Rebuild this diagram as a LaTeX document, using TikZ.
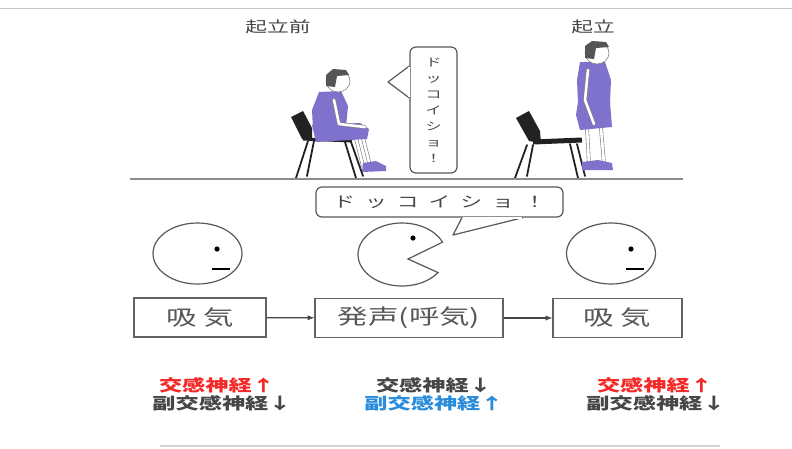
\documentclass[tikz,border=0pt]{standalone}
\usepackage{fontspec}
\usetikzlibrary{positioning}
\newfontfamily\jpfont[FakeStretch=1.45]{Noto Sans CJK JP}
\definecolor{shirt}{RGB}{126,114,204}
\definecolor{hair}{RGB}{85,85,85}
\definecolor{chair}{RGB}{34,34,34}
\definecolor{inkgray}{RGB}{70,70,70}
\definecolor{upred}{RGB}{245,40,40}
\definecolor{upblue}{RGB}{40,140,220}

\begin{document}
\begin{tikzpicture}[x=1pt, y=-1pt,
	phase/.style={draw=inkgray!85, line width=1.3pt, inner sep=0pt, minimum height=39pt, text=inkgray!90, font=\jpfont\fontsize{21}{21}\selectfont},
	bubble/.style={draw=inkgray!90, line width=1.2pt, fill=white, rounded corners=6pt, inner sep=0pt, text=inkgray},
	face/.style={draw=inkgray!90, line width=1.2pt, fill=white},
	nerve/.style={font=\jpfont\bfseries\fontsize{16}{16}\selectfont, inner sep=0pt},
	limb/.style={draw=gray, double=white, double distance=2.6pt, line width=0.6pt, line cap=round, line join=round},
	chairleg/.style={chair, line width=1.8pt, line cap=round}]
	\useasboundingbox (0,0) rectangle (792,448);
	\fill[white] (0,0) rectangle (792,448);

	\draw[gray!45, line width=0.8pt] (0,8) -- (792,8);
	\node[text=inkgray, font=\jpfont\fontsize{15}{15}\selectfont] (before) at (278,27) {起立前};
	\node[text=inkgray, font=\jpfont\fontsize{15}{15}\selectfont] (after) at (593,27) {起立};

	\fill[chair] (291,117) -- (303,111) -- (312,128) -- (312,140) -- (302,139) -- cycle;
	\draw[chair, line width=3pt] (303,139) -- (352,141);
	\draw[chairleg] (308,141) -- (296,178);
	\draw[chairleg] (314,141) -- (307,176);
	\draw[chairleg] (345,142) -- (356,178);
	\draw[chairleg] (351,142) -- (363,176);
	\draw[limb] (362,134) -- (370,166);
	\draw[limb] (355,134) -- (363,166);
	\fill[shirt] (363,163) -- (376,161) -- (386,166) -- (386,171) -- (362,172) -- cycle;
	\fill[shirt] (312,125) -- (360,123) -- (369,129) -- (367,139) -- (316,142) -- cycle;
	\fill[shirt] (319,92) -- (341,91) -- (348,106) -- (346,127) -- (313,130) -- (312,110) -- cycle;
	\draw[limb] (334,100) -- (339,124) -- (365,127);
	\filldraw[fill=white, draw=gray, line width=0.6pt] (338,81) ellipse [x radius=12, y radius=11];
	\fill[hair] (326,86) -- (326,75) -- (333,69) -- (346,70) -- (349,75) -- (337,76) -- (335,87) -- cycle;

	\fill[chair] (516,118) -- (529,111) -- (540,131) -- (541,143) -- (529,141) -- cycle;
	\draw[chair, line width=5pt] (533,142) -- (582,140);
	\draw[chairleg] (527,145) -- (515,178);
	\draw[chairleg] (533,145) -- (527,176);
	\draw[chairleg] (570,144) -- (578,178);
	\draw[chairleg] (577,144) -- (585,176);
	\draw[limb] (587,128) -- (589,164);
	\draw[limb] (601,128) -- (604,164);
	\fill[shirt] (582,162) -- (598,160) -- (612,163) -- (613,170) -- (582,170) -- cycle;
	\fill[shirt] (578,102) -- (610,102) -- (612,127) -- (580,130) -- (576,115) -- cycle;
	\fill[shirt] (580,62) -- (605,62) -- (611,80) -- (610,103) -- (578,103) -- (577,80) -- cycle;
	\draw[limb] (588,70) -- (585,100) -- (594,124);
	\filldraw[fill=white, draw=gray, line width=0.6pt] (597,53) ellipse [x radius=12, y radius=11];
	\fill[hair] (585,58) -- (585,46) -- (592,41) -- (606,42) -- (609,47) -- (596,48) -- (594,59) -- cycle;

	\node[bubble, minimum width=47pt, minimum height=126pt, align=center, font=\jpfont\fontsize{11}{16}\selectfont] (tatekoe) at (433.5,110) {ド\\ッ\\コ\\イ\\シ\\ョ\\！};
	\draw[inkgray!90, line width=1.2pt, fill=white, line join=round] ([yshift=44pt]tatekoe.west) -- (388,82) -- ([yshift=12pt]tatekoe.west);
	\draw[white, line width=2pt] ([yshift=43pt]tatekoe.west) -- ([yshift=13pt]tatekoe.west);

	\draw[gray!90, line width=1.8pt] (130,179) -- (683,179);

	\node[bubble, minimum width=247pt, minimum height=30pt, font=\jpfont\fontsize{15}{15}\selectfont] (yokokoe) at (439.5,202) {ド\kern10pt ッ\kern10pt コ\kern10pt イ\kern10pt シ\kern10pt ョ\kern10pt ！};
	\draw[inkgray!90, line width=1.2pt, fill=white, line join=round] ([xshift=22.5pt]yokokoe.south) -- (453,235) -- ([xshift=83.5pt]yokokoe.south);
	\draw[white, line width=2pt] ([xshift=23.5pt]yokokoe.south) -- ([xshift=82.5pt]yokokoe.south);

	\draw[face] (197.5,253.5) ellipse [x radius=44.5, y radius=30.5];
	\fill (217,249) circle [radius=2.6];
	\draw[line width=1.4pt] (212,269) -- (230,269);
	\draw[face] (408,259) -- ([shift={(402,254.5)}]-23:44 and 31.5) arc [start angle=-23, end angle=-325, x radius=44, y radius=31.5] -- cycle;
	\fill (413,238) circle [radius=2.6];
	\draw[face] (611,253.5) ellipse [x radius=44.5, y radius=30.5];
	\fill (631,249) circle [radius=2.6];
	\draw[line width=1.4pt] (626,269) -- (644,269);

	\node[phase, minimum width=132pt] (inhale) at (200,317.5) {吸 気};
	\node[phase, minimum width=188pt] (voice) at (409,318) {発声(呼気)};
	\node[phase, minimum width=129pt] (reinhale) at (617.5,318) {吸 気};
	\draw[-latex, line width=1.3pt, inkgray] (inhale) -- (voice);
	\draw[-latex, line width=1.3pt, inkgray] (voice) -- (reinhale);

	\node[nerve, text=upred] (symup) at (217,385) {交感神経↑};
	\node[nerve, text=inkgray] (paradown) at (222,403) {副交感神経↓};
	\node[nerve, text=inkgray] (symdown) at (434,385) {交感神経↓};
	\node[nerve, text=upblue] (paraup) at (434,403) {副交感神経↑};
	\node[nerve, text=upred] (symup2) at (655,385) {交感神経↑};
	\node[nerve, text=inkgray] (paradown2) at (656,403) {副交感神経↓};

	\draw[gray!35, line width=1.5pt] (160,446) -- (720,446);
\end{tikzpicture}
\end{document}
